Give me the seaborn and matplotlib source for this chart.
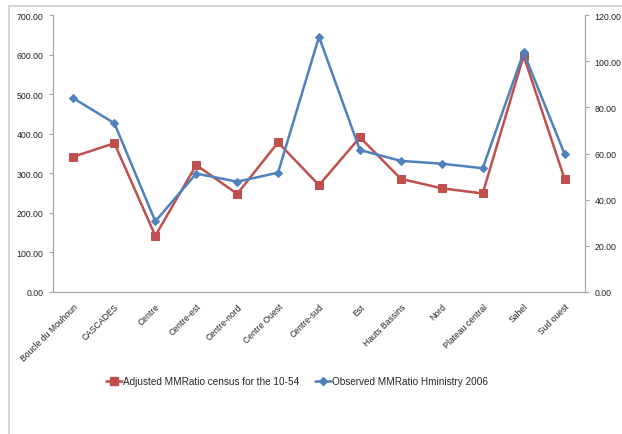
import matplotlib
matplotlib.use("Agg")
import matplotlib.pyplot as plt
from matplotlib.lines import Line2D
from matplotlib.ticker import FormatStrFormatter, FixedLocator
import seaborn as sns
import pandas as pd

regions = ["Boucle du Mouhoun", "CASCADES", "Centre", "Centre-est", "Centre-nord",
           "Centre Ouest", "Centre-sud", "Est", "Hauts Bassins", "Nord",
           "Plateau central", "Sahel", "Sud ouest"]
adjusted = [342, 376, 142, 321, 248, 378, 270, 391, 286, 262, 249, 597, 286]
observed = [83.9, 73.1, 30.6, 51.3, 47.8, 51.7, 110.6, 61.5, 56.8, 55.6, 53.6, 103.8, 59.8]

red_label = "Adjusted MMRatio census for the 10-54"
blue_label = "Observed MMRatio Hministry 2006"

red = "#C0504D"
blue = "#4F81BD"
axis_grey = "#a6a6a6"

df = pd.DataFrame({"region": regions, "adjusted": adjusted, "observed": observed})

sns.set_style("white")
plt.rcParams["font.family"] = ["Liberation Sans", "DejaVu Sans"]

fig = plt.figure(figsize=(6.22, 4.35), dpi=100)
ax = fig.add_axes([53 / 622, 1 - 293 / 435, (585 - 53) / 622, (293 - 16) / 435])
ax2 = ax.twinx()

sns.lineplot(data=df, x="region", y="adjusted", sort=False, ax=ax, color=red,
             marker="s", markersize=5.5, markeredgecolor=red, linewidth=1.8,
             label=red_label, legend=False)
sns.lineplot(data=df, x="region", y="observed", sort=False, ax=ax2, color=blue,
             marker="D", markersize=3.8, markeredgecolor=blue, linewidth=1.8,
             label=blue_label, legend=False)

ax.set_xlim(-0.5, len(regions) - 0.5)
ax.set_ylim(0, 700)
ax2.set_ylim(0, 120)
ax.set_yticks(range(0, 701, 100))
ax2.set_yticks(range(0, 121, 20))
ax.yaxis.set_major_formatter(FormatStrFormatter("%.2f"))
ax2.yaxis.set_major_formatter(FormatStrFormatter("%.2f"))
ax.set_xlabel("")
ax.set_ylabel("")
ax2.set_ylabel("")

ax.set_xticks(range(len(regions)))
ax.set_xticklabels(regions, rotation=45, ha="right", va="top", rotation_mode="anchor",
                   fontsize=6.2, color="#222222")
ax.xaxis.set_minor_locator(FixedLocator([i - 0.5 for i in range(len(regions) + 1)]))
ax.tick_params(axis="x", which="major", length=0, pad=7)
ax.tick_params(axis="x", which="minor", length=3, width=0.8, color=axis_grey, direction="out")
ax.tick_params(axis="y", length=3, width=0.8, color=axis_grey, direction="out",
               labelsize=6.3, labelcolor="#222222", pad=4, left=True)
ax2.tick_params(axis="y", length=3, width=0.8, color=axis_grey, direction="out",
                labelsize=6.3, labelcolor="#222222", pad=4, right=True)

for name, sp in ax.spines.items():
    sp.set_visible(name in ("left", "bottom"))
    sp.set_color(axis_grey)
    sp.set_linewidth(0.9)
for name, sp in ax2.spines.items():
    sp.set_visible(name == "right")
    sp.set_color(axis_grey)
    sp.set_linewidth(0.9)

handles = [
    Line2D([], [], color=red, marker="s", markersize=5.5, linewidth=1.8),
    Line2D([], [], color=blue, marker="D", markersize=3.8, linewidth=1.8),
]
fig.legend(handles, [red_label, blue_label], loc="center", ncol=2,
           bbox_to_anchor=(0.477, 1 - 382 / 435), frameon=False, fontsize=7.2,
           handlelength=1.6, handletextpad=0.1, columnspacing=1.6)

# chart frame (top and left edges visible)
fig.add_artist(Line2D([9 / 622, 1], [1 - 7 / 435, 1 - 7 / 435], color="#d0d0d0", lw=1.2))
fig.add_artist(Line2D([9 / 622, 9 / 622], [0, 1 - 7 / 435], color="#d0d0d0", lw=1.2))

fig.savefig("out.png", dpi=100)
